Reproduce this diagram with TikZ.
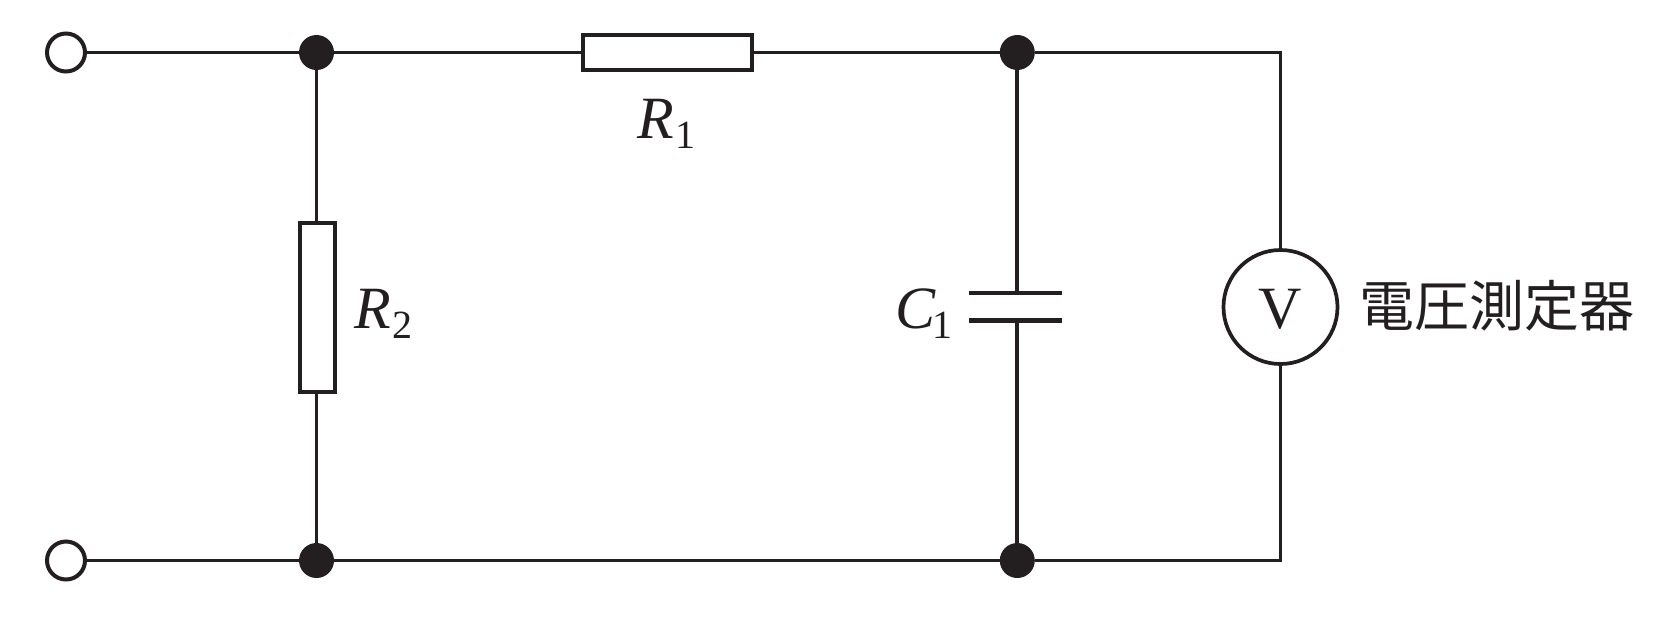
\documentclass[tikz,border=0pt]{standalone}
\usepackage{fontspec}
\setmainfont{Liberation Serif}
\newfontfamily\cjk{Noto Sans CJK JP}
\definecolor{ink}{HTML}{231F20}
\newcommand{\lab}[3]{{\fontsize{60}{60}\selectfont\itshape #1}\kern#3\raisebox{-10pt}{\fontsize{40}{40}\selectfont #2}}
\tikzset{
  wire/.style={draw=ink,line width=3.7pt,line join=miter},
  plate/.style={draw=ink,line width=4.4pt},
  term/.style={circle,draw=ink,fill=white,line width=4pt,minimum size=38pt,inner sep=0pt},
  junct/.style={circle,fill=ink,minimum size=35pt,inner sep=0pt},
  res/.style={rectangle,draw=ink,fill=white,line width=4pt,inner sep=0pt},
  meter/.style={circle,draw=ink,fill=white,line width=3.7pt,minimum size=114pt,inner sep=0pt},
  txt/.style={inner sep=0pt,text=ink,anchor=base west}
}
\begin{document}
\begin{tikzpicture}[x=1pt,y=-1pt]
\useasboundingbox (0,0) rectangle (1655,619);
\node[term] (t1) at (66,52.5) {};
\node[term] (t2) at (66,560.5) {};
\node[junct] (a1) at (316.5,52.5) {};
\node[junct] (a2) at (316.5,560.5) {};
\node[junct] (b1) at (1017.3,52.5) {};
\node[junct] (b2) at (1017.3,560.5) {};
\node[res,minimum width=169pt,minimum height=35pt] (r1) at (667,52.5) {};
\node[res,minimum width=34.5pt,minimum height=169pt] (r2) at (317.5,307) {};
\node[meter] (vm) at (1280.5,307) {};
\coordinate (c1) at (1280.5,52.5);
\coordinate (c2) at (1280.5,560.5);
\coordinate (pt) at (1017.3,293);
\coordinate (pb) at (1017.3,320.6);
\coordinate (ptl) at (969,293);
\coordinate (ptr) at (1061.5,293);
\coordinate (pbl) at (969,320.6);
\coordinate (pbr) at (1061.5,320.6);
\draw[wire] (t1) -- (a1);
\draw[wire] (a1) -- (r1);
\draw[wire] (r1) -- (b1);
\draw[wire] (b1) -- (c1) -- (vm);
\draw[wire] (vm) -- (c2) -- (b2);
\draw[wire] (t2) -- (a2);
\draw[wire] (a2) -- (b2);
\draw[wire] (a1) -- (a1|-r2.north);
\draw[wire] (a2) -- (a2|-r2.south);
\draw[wire] (b1) -- (pt);
\draw[wire] (b2) -- (pb);
\draw[plate] (ptl) -- (ptr);
\draw[plate] (pbl) -- (pbr);
\node[txt] (lr1) at (637,138) {\lab{R}{1}{1.5pt}};
\node[txt] (lr2) at (354,328) {\lab{R}{2}{1.5pt}};
\node[txt] (lc1) at (895,328) {\lab{C}{1}{-3pt}};
\node[txt,anchor=base] (lv) at (vm|-0,328.5) {\fontsize{60}{60}\selectfont V};
\node[txt] (lm) at (1359,326) {\fontsize{55}{55}\selectfont\cjk 電圧測定器};
\end{tikzpicture}
\end{document}
